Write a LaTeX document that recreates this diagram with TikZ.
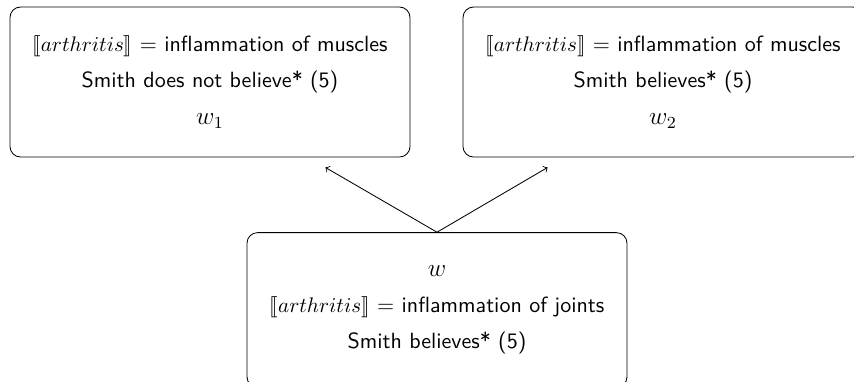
\documentclass[tikz,border=0pt]{standalone}
\usepackage{amsmath}
\usepackage{amssymb}
\usepackage{stmaryrd}
\usepackage{tikz}
\usetikzlibrary{calc}

\tikzset{world/.style={draw, rounded corners=5pt, align=center, font=\sffamily\fontsize{10.45pt}{12.5pt}\selectfont, minimum width=6.667cm, minimum height=2.5cm}}

\begin{document}
\begin{tikzpicture}
			\useasboundingbox (0,0) rectangle (14.233,6.35);
			\node[world] (w1) at (3.5,4.983) {$\llbracket arthritis\rrbracket$ = inflammation of muscles\\[4.5pt] Smith does not believe* (5)\\[5pt] {\large $w_1$}};
			\node[world] (w2) at (11.05,4.983) {$\llbracket arthritis\rrbracket$ = inflammation of muscles\\[4.5pt] Smith believes* (5)\\[5pt] {\large $w_2$}};
			\node[world, minimum width=6.333cm, minimum height=2.58cm] (w) at (7.283,1.183) {{\large $w$}\\[4.5pt] $\llbracket arthritis\rrbracket$ = inflammation of joints\\[4.5pt] Smith believes* (5)};
			\coordinate (t1) at ($(w1.south east)+(-1.417,-0.167)$);
			\coordinate (t2) at ($(w2.south west)+(1.417,-0.167)$);
			\draw[->] (w.north) -- (t1);
			\draw[->] (w.north) -- (t2);
		\end{tikzpicture}
\end{document}
